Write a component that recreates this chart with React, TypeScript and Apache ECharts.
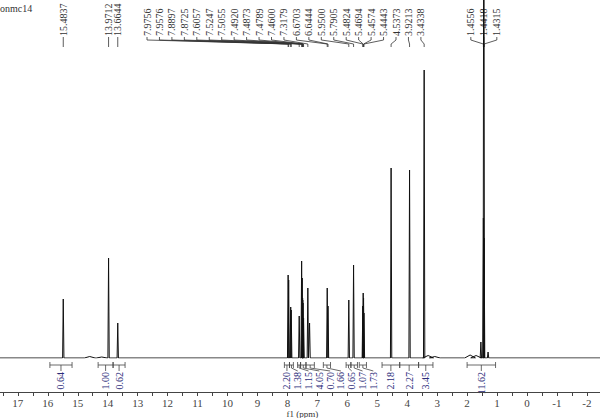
import React, { useEffect, useRef } from "react";
import * as echarts from "echarts";

// ---- data ----
const sampleName = "onmc14";

// peak positions (ppm) and heights (arbitrary units = px above baseline)
const peakShifts = [
  15.4837, 13.9712, 13.6644, 7.9756, 7.9576, 7.8897, 7.8725, 7.6057, 7.5247, 7.5055,
  7.492, 7.4873, 7.4789, 7.46, 7.3179, 7.26, 6.6703, 6.6444, 5.95, 5.7905, 5.4824,
  5.4694, 5.4574, 5.4443, 4.5373, 3.9213, 3.4338, 1.54, 1.4556, 1.4418, 1.4315, 1.3,
];
const peakHeights = [
  59, 100, 35, 83, 78, 51, 48, 42, 97, 80, 60, 58, 55, 40, 70, 35, 70, 52, 58, 93, 52, 65,
  60, 45, 190, 188, 288, 16, 140, 600, 120, 6,
];

// small broad baseline features (ppm, height)
const bumpShifts = [14.6, 14.2, 3.3, 3.08, 1.9, 1.7];
const bumpHeights = [1.5, 1, 2.5, 1.5, 3, 2.5];

// labelled peaks (printed at top)
const labelShifts = [
  15.4837, 13.9712, 13.6644, 7.9756, 7.9576, 7.8897, 7.8725, 7.6057, 7.5247, 7.5055, 7.492,
  7.4873, 7.4789, 7.46, 7.3179, 6.6703, 6.6444, 5.95, 5.7905, 5.4824, 5.4694, 5.4574, 5.4443,
  4.5373, 3.9213, 3.4338, 1.4556, 1.4418, 1.4315,
];

// integrals: ranges (ppm from, ppm to) and values
const integralFrom = [15.93, 14.32, 13.82, 8.1, 7.93, 7.66, 7.56, 7.38, 6.8, 6.04, 5.88, 5.6, 4.84, 4.25, 3.62, 2.0];
const integralTo = [15.19, 13.82, 13.42, 7.93, 7.8, 7.56, 7.38, 7.1, 6.56, 5.88, 5.66, 5.36, 4.25, 3.62, 3.14, 1.05];
const integralValues = ["0.64", "1.00", "0.62", "2.20", "1.38", "1.15", "4.05", "0.70", "1.66", "0.65", "1.07", "1.73", "2.18", "2.27", "3.45", "11.62"];

const axisName = "f1 (ppm)";

// ---- layout constants ----
const PX_PER_PPM = 29.95;
const ZERO_X = 527;
const AXIS_MIN = -3;
const AXIS_MAX = 18;
const W = 600;
const H = 418;
const SERIF = '"Liberation Serif", "DejaVu Serif", serif';

function buildLine(): number[][] {
  const items: { c: number; h: number; w: number }[] = [];
  peakShifts.forEach((c, i) => items.push({ c, h: peakHeights[i], w: 0.022 }));
  bumpShifts.forEach((c, i) => items.push({ c, h: bumpHeights[i], w: 0.18 }));
  items.sort((a, b) => b.c - a.c);
  const pts: number[][] = [[AXIS_MAX, 0]];
  items.forEach((p) => {
    pts.push([p.c + p.w, 0], [p.c, p.h], [p.c - p.w, 0]);
  });
  pts.push([AXIS_MIN, 0]);
  return pts;
}

export default function App() {
  const ref = useRef<HTMLDivElement>(null);
  useEffect(() => {
    document.body.style.margin = "0";
    if (!ref.current) return;
    const chart = echarts.init(ref.current, undefined, { renderer: "svg" });
    const gridLeft = ZERO_X - PX_PER_PPM * AXIS_MAX;
    const gridRight = W - (ZERO_X - PX_PER_PPM * AXIS_MIN);
    chart.setOption({
      animation: false,
      grid: {
        left: gridLeft,
        right: gridRight,
        top: 0,
        bottom: 60,
        containLabel: false,
        outerBoundsMode: "none",
      },
      xAxis: {
        type: "value",
        inverse: true,
        min: AXIS_MIN,
        max: AXIS_MAX,
        interval: 1,
        offset: 34,
        name: axisName,
        nameLocation: "middle",
        nameGap: 17,
        nameMoveOverlap: false,
        nameTextStyle: { fontFamily: SERIF, fontSize: 9, color: "#333", verticalAlign: "top" },
        axisLine: { onZero: false, lineStyle: { color: "#444", width: 1 } },
        axisTick: { length: 4, lineStyle: { color: "#444" } },
        minorTick: { show: true, splitNumber: 2, length: 4, lineStyle: { color: "#444" } },
        axisLabel: {
          fontFamily: SERIF,
          fontSize: 11,
          color: "#444",
          margin: 5,
          showMinLabel: false,
          showMaxLabel: false,
        },
        splitLine: { show: false },
      },
      yAxis: { type: "value", min: 0, max: 358, show: false },
      series: [
        {
          type: "line",
          data: buildLine(),
          showSymbol: false,
          symbol: "none",
          lineStyle: { color: "#111", width: 1 },
          clip: true,
        },
      ],
    });

    const px = (ppm: number) => chart.convertToPixel({ xAxisIndex: 0 }, ppm) as number;
    const graphics: any[] = [];

    graphics.push({
      type: "text",
      x: 0,
      y: 3,
      style: { text: sampleName, font: `10px ${SERIF}`, fill: "#333" },
    });

    // peak labels
    const clusterStart = 3; // index of 7.9756
    const clusterEnd = 25; // index of 3.4338
    const groupCenterIdx = 27; // 1.4418
    labelShifts.forEach((s, i) => {
      const p = px(s);
      let lx = p;
      if (i >= clusterStart && i <= clusterEnd) lx = 147 + (i - clusterStart) * 12.45;
      else if (i >= 26) lx = px(labelShifts[groupCenterIdx]) + (i - groupCenterIdx) * 13;
      graphics.push({
        type: "text",
        x: lx,
        y: 36,
        rotation: Math.PI / 2,
        style: {
          text: s.toFixed(4),
          font: `10px ${SERIF}`,
          fill: "#333",
          align: "left",
          verticalAlign: "middle",
        },
      });
      graphics.push({
        type: "polyline",
        shape: { points: [[lx, 37], [lx, 40], [p, 44], [p, 47]] },
        style: { stroke: "#333", lineWidth: 0.8, fill: null },
      });
    });

    // integrals
    const order = integralFrom.map((_, i) => i);
    const centers = order.map((i) => (px(integralFrom[i]) + px(integralTo[i])) / 2);
    const labelX: number[] = [];
    let last = -1e9;
    order.forEach((i) => {
      const x = Math.max(centers[i], last + 10.8);
      labelX.push(x);
      last = x;
    });
    order.forEach((i) => {
      const x1 = px(integralFrom[i]);
      const x2 = px(integralTo[i]);
      const c = centers[i];
      const yb = 365;
      graphics.push({ type: "line", shape: { x1, y1: yb, x2, y2: yb }, style: { stroke: "#444", lineWidth: 0.8 } });
      graphics.push({ type: "line", shape: { x1, y1: yb - 3, x2: x1, y2: yb + 3 }, style: { stroke: "#444", lineWidth: 0.8 } });
      graphics.push({ type: "line", shape: { x1: x2, y1: yb - 3, x2, y2: yb + 3 }, style: { stroke: "#444", lineWidth: 0.8 } });
      graphics.push({
        type: "polyline",
        shape: { points: [[c, yb], [c, yb + 3], [labelX[i], yb + 6]] },
        style: { stroke: "#444", lineWidth: 0.8, fill: null },
      });
      graphics.push({
        type: "text",
        x: labelX[i],
        y: 372,
        rotation: Math.PI / 2,
        style: {
          text: integralValues[i],
          font: `10px ${SERIF}`,
          fill: "#2b2b7a",
          align: "right",
          verticalAlign: "middle",
        },
      });
    });

    chart.setOption({ graphic: graphics });
    return () => chart.dispose();
  }, []);
  return <div ref={ref} style={{ width: W, height: H }} />;
}
